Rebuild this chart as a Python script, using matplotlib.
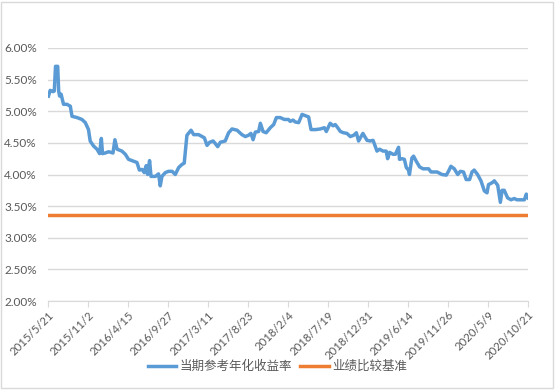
import matplotlib.pyplot as plt
from matplotlib.patches import Rectangle
from matplotlib.ticker import FuncFormatter
import pandas as pd

plt.rcParams['font.family'] = ['Lato', 'Noto Sans CJK SC', 'DejaVu Sans']

start = pd.Timestamp('2015-05-21')
# days after 2015/5/21
day_offsets = [
    2, 9, 21, 26, 31, 40, 44, 48, 54, 64, 78, 92, 99, 120, 140, 154, 167, 174,
    188, 202, 213, 220, 225, 236, 250, 268, 276, 285, 305, 319, 332, 353, 367,
    377, 388, 397, 405, 411, 419, 425, 443, 456, 463, 470, 484, 497, 512, 525,
    539, 553, 562, 573, 590, 601, 621, 631, 645, 656, 667, 681, 690, 700, 711,
    731, 745, 759, 780, 800, 814, 827, 837, 846, 855, 869, 876, 887, 900, 917,
    931, 942, 958, 975, 992, 999, 1011, 1020, 1034, 1048, 1061, 1075, 1085,
    1103, 1123, 1140, 1148, 1164, 1176, 1185, 1195, 1206, 1219, 1233, 1247,
    1261, 1272, 1281, 1299, 1316, 1329, 1341, 1357, 1368, 1382, 1395, 1401,
    1409, 1423, 1433, 1446, 1450, 1460, 1470, 1478, 1487, 1491, 1501, 1508,
    1519, 1533, 1547, 1570, 1580, 1605, 1625, 1643, 1652, 1662, 1676, 1690,
    1701, 1714, 1725, 1739, 1749, 1758, 1772, 1786, 1800, 1811, 1817, 1832,
    1841, 1855, 1866, 1873, 1882, 1896, 1910, 1923, 1935, 1951, 1965, 1973,
    1980,
]
# 当期参考年化收益率 (%)
ref_yield = [
    5.24, 5.33, 5.31, 5.32, 5.71, 5.71, 5.32, 5.24, 5.27, 5.11, 5.11, 5.08,
    4.92, 4.90, 4.87, 4.82, 4.71, 4.53, 4.45, 4.40, 4.33, 4.57, 4.33, 4.34,
    4.36, 4.34, 4.55, 4.40, 4.37, 4.32, 4.24, 4.21, 4.19, 4.07, 4.08, 4.03,
    4.14, 4.00, 4.22, 3.97, 3.97, 4.01, 3.82, 3.97, 4.03, 4.05, 4.05, 4.00,
    4.11, 4.16, 4.18, 4.62, 4.70, 4.63, 4.63, 4.61, 4.58, 4.46, 4.51, 4.53,
    4.49, 4.44, 4.51, 4.53, 4.66, 4.72, 4.70, 4.63, 4.60, 4.62, 4.65, 4.55,
    4.67, 4.68, 4.81, 4.68, 4.66, 4.74, 4.79, 4.90, 4.90, 4.87, 4.87, 4.84,
    4.86, 4.83, 4.82, 4.95, 4.93, 4.91, 4.71, 4.71, 4.72, 4.74, 4.68, 4.81,
    4.77, 4.79, 4.74, 4.68, 4.66, 4.65, 4.60, 4.62, 4.66, 4.53, 4.65, 4.54,
    4.53, 4.54, 4.37, 4.40, 4.37, 4.37, 4.25, 4.35, 4.32, 4.32, 4.43, 4.24,
    4.25, 4.24, 4.11, 4.07, 4.00, 4.26, 4.29, 4.21, 4.12, 4.09, 4.09, 4.04,
    4.04, 4.00, 3.99, 4.05, 4.13, 4.09, 4.00, 4.05, 4.04, 3.92, 3.92, 4.04,
    4.07, 4.00, 3.90, 3.74, 3.71, 3.84, 3.87, 3.90, 3.83, 3.56, 3.75, 3.75,
    3.63, 3.60, 3.62, 3.60, 3.60, 3.60, 3.69, 3.63,
]
benchmark = 3.36  # 业绩比较基准 (%)
tick_step_days = 165
n_ticks = 13

dates = start + pd.to_timedelta(day_offsets, unit='D')
end = start + pd.Timedelta(days=tick_step_days * (n_ticks - 1))
tick_dates = [start + pd.Timedelta(days=tick_step_days * i) for i in range(n_ticks)]
tick_labels = ['%d/%d/%d' % (d.year, d.month, d.day) for d in tick_dates]

fig = plt.figure(figsize=(5.55, 3.9), dpi=100)
ax = fig.add_axes([48 / 555, 89 / 390, 480 / 555, 253 / 390])

ax.plot(dates, ref_yield, color='#5B9BD5', linewidth=2.5, label='当期参考年化收益率',
        solid_joinstyle='round', zorder=3)
ax.plot([start, end], [benchmark, benchmark], color='#ED7D31', linewidth=2.5,
        label='业绩比较基准', zorder=3)

ax.set_xlim(start, end)
ax.set_ylim(2.0, 6.0)
ax.set_yticks([2.0, 2.5, 3.0, 3.5, 4.0, 4.5, 5.0, 5.5, 6.0])
ax.yaxis.set_major_formatter(FuncFormatter(lambda v, p: '%.2f%%' % v))
ax.set_xticks(tick_dates)
ax.set_xticklabels(tick_labels, rotation=45, ha='right', rotation_mode='anchor')

ax.grid(axis='y', color='#D9D9D9', linewidth=1)
ax.set_axisbelow(True)
for side in ['top', 'right', 'left']:
    ax.spines[side].set_visible(False)
ax.spines['bottom'].set_color('#D9D9D9')
ax.tick_params(axis='y', length=0, labelsize=8.5, labelcolor='#595959', pad=8)
ax.tick_params(axis='x', length=4, color='#D9D9D9', labelsize=8.2,
               labelcolor='#595959', pad=2)

fig.legend(loc='center', bbox_to_anchor=(0.5, 24 / 390), ncol=2, frameon=False,
           fontsize=9, handlelength=2.3, handletextpad=0.3, columnspacing=0.6,
           labelcolor='#595959')

fig.patches.append(Rectangle((0.002, 0.004), 0.994, 0.992, transform=fig.transFigure,
                             fill=False, edgecolor='#D9D9D9', linewidth=1))

fig.savefig('out.png', dpi=100)
